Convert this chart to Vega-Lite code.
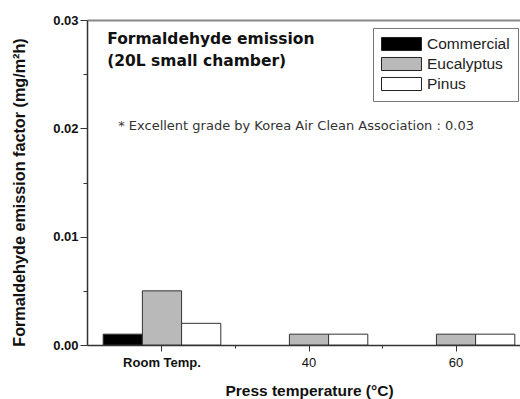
{
  "$schema": "https://vega.github.io/schema/vega-lite/v6.json",
  "autosize": {"type": "none"},
  "padding": {"left": 87, "top": 20, "right": 0, "bottom": 54},
  "width": 433,
  "height": 325,
  "background": "white",
  "config": {
    "view": {"stroke": null},
    "font": "Liberation Sans",
    "axis": {"grid": false, "labelColor": "#111", "titleColor": "#111"}
  },
  "resolve": {"axis": {"x": "independent", "y": "independent"}},
  "layer": [
    {
      "data": {
        "values": [
          {"temp": "Room Temp.", "wood": "Commercial", "ef": 0.001},
          {"temp": "Room Temp.", "wood": "Eucalyptus", "ef": 0.005},
          {"temp": "Room Temp.", "wood": "Pinus", "ef": 0.002},
          {"temp": "40", "wood": "Eucalyptus", "ef": 0.001},
          {"temp": "40", "wood": "Pinus", "ef": 0.001},
          {"temp": "60", "wood": "Eucalyptus", "ef": 0.001},
          {"temp": "60", "wood": "Pinus", "ef": 0.001}
        ]
      },
      "mark": {"type": "bar", "stroke": "#333", "strokeWidth": 1},
      "encoding": {
        "x": {
          "field": "temp",
          "type": "nominal",
          "sort": null,
          "scale": {"domain": ["Room Temp.", "40", "60"], "range": [0, 444], "paddingInner": 0.2, "paddingOuter": 0.11},
          "axis": {
            "title": "Press temperature (°C)",
            "titleFontSize": 15.5,
            "titleFontWeight": "bold",
            "titlePadding": 14,
            "labelAngle": 0,
            "labelFontSize": 13,
            "labelPadding": 5,
            "labelFontWeight": {"condition": {"test": "datum.value === 'Room Temp.'", "value": "bold"}, "value": "normal"},
            "tickSize": 6,
            "tickColor": "#333",
            "domainColor": "#333",
            "domainWidth": 1.5
          }
        },
        "xOffset": {
          "field": "wood",
          "type": "nominal",
          "scale": {"domain": ["Commercial", "Eucalyptus", "Pinus"], "paddingInner": 0, "paddingOuter": 0}
        },
        "y": {
          "field": "ef",
          "type": "quantitative",
          "scale": {"domain": [0, 0.03], "nice": false},
          "axis": {
            "title": "Formaldehyde emission factor (mg/m²h)",
            "titleFontSize": 16.2,
            "titleFontWeight": "bold",
            "titlePadding": 25,
            "titleY": 172,
            "values": [0, 0.01, 0.02, 0.03],
            "format": ".2f",
            "labelFontSize": 13,
            "labelFontWeight": "bold",
            "labelPadding": 2,
            "tickSize": 7,
            "tickColor": "#333",
            "domainColor": "#333",
            "domainWidth": 1.5
          }
        },
        "fill": {
          "field": "wood",
          "type": "nominal",
          "scale": {"domain": ["Commercial", "Eucalyptus", "Pinus"], "range": ["#000000", "#b9b9b9", "#ffffff"]},
          "legend": {
            "title": null,
            "orient": "none",
            "legendX": 286,
            "legendY": 8,
            "padding": 8,
            "strokeColor": "#777",
            "fillColor": "white",
            "symbolType": "M-1,-0.87H4.33V0.87H-1Z",
            "symbolSize": 225,
            "symbolStrokeColor": "#222",
            "symbolStrokeWidth": 1,
            "symbolOpacity": 1,
            "labelFontSize": 15.5,
            "labelColor": "#222",
            "labelOffset": 30,
            "rowPadding": 2
          }
        }
      }
    },
    {
      "data": {"values": [{"note": "Formaldehyde emission\n(20L small chamber)"}]},
      "mark": {"type": "text", "align": "left", "baseline": "alphabetic", "dx": 4, "font": "DejaVu Sans", "fontWeight": "bold", "fontSize": 15.5, "lineHeight": 22, "lineBreak": "\n", "color": "#111"},
      "encoding": {
        "text": {"field": "note"},
        "x": {
          "datum": "Room Temp.",
          "type": "nominal",
          "bandPosition": 0,
          "scale": {"domain": ["Room Temp.", "40", "60"], "range": [0, 444], "paddingInner": 0.2, "paddingOuter": 0.11},
          "axis": {"orient": "bottom", "title": null, "values": ["Room Temp.", "40"], "bandPosition": 1.125, "labels": false, "domain": false, "tickSize": 3, "tickColor": "#333"}
        },
        "y": {
          "datum": 0.0278,
          "type": "quantitative",
          "axis": {"orient": "left", "title": null, "values": [0.005, 0.015, 0.025], "labels": false, "domain": false, "tickSize": 4, "tickColor": "#333"}
        }
      }
    },
    {
      "data": {"values": [{"note": "* Excellent grade by Korea Air Clean Association : 0.03"}]},
      "mark": {"type": "text", "align": "left", "baseline": "middle", "dx": 15, "font": "DejaVu Sans", "fontSize": 13, "color": "#333"},
      "encoding": {
        "text": {"field": "note"},
        "x": {
          "datum": "Room Temp.",
          "type": "nominal",
          "bandPosition": 0,
          "axis": {"orient": "top", "title": null, "labels": false, "ticks": false, "domain": true, "domainColor": "#888", "domainWidth": 2}
        },
        "y": {"datum": 0.0202, "type": "quantitative", "axis": null}
      }
    }
  ]
}
